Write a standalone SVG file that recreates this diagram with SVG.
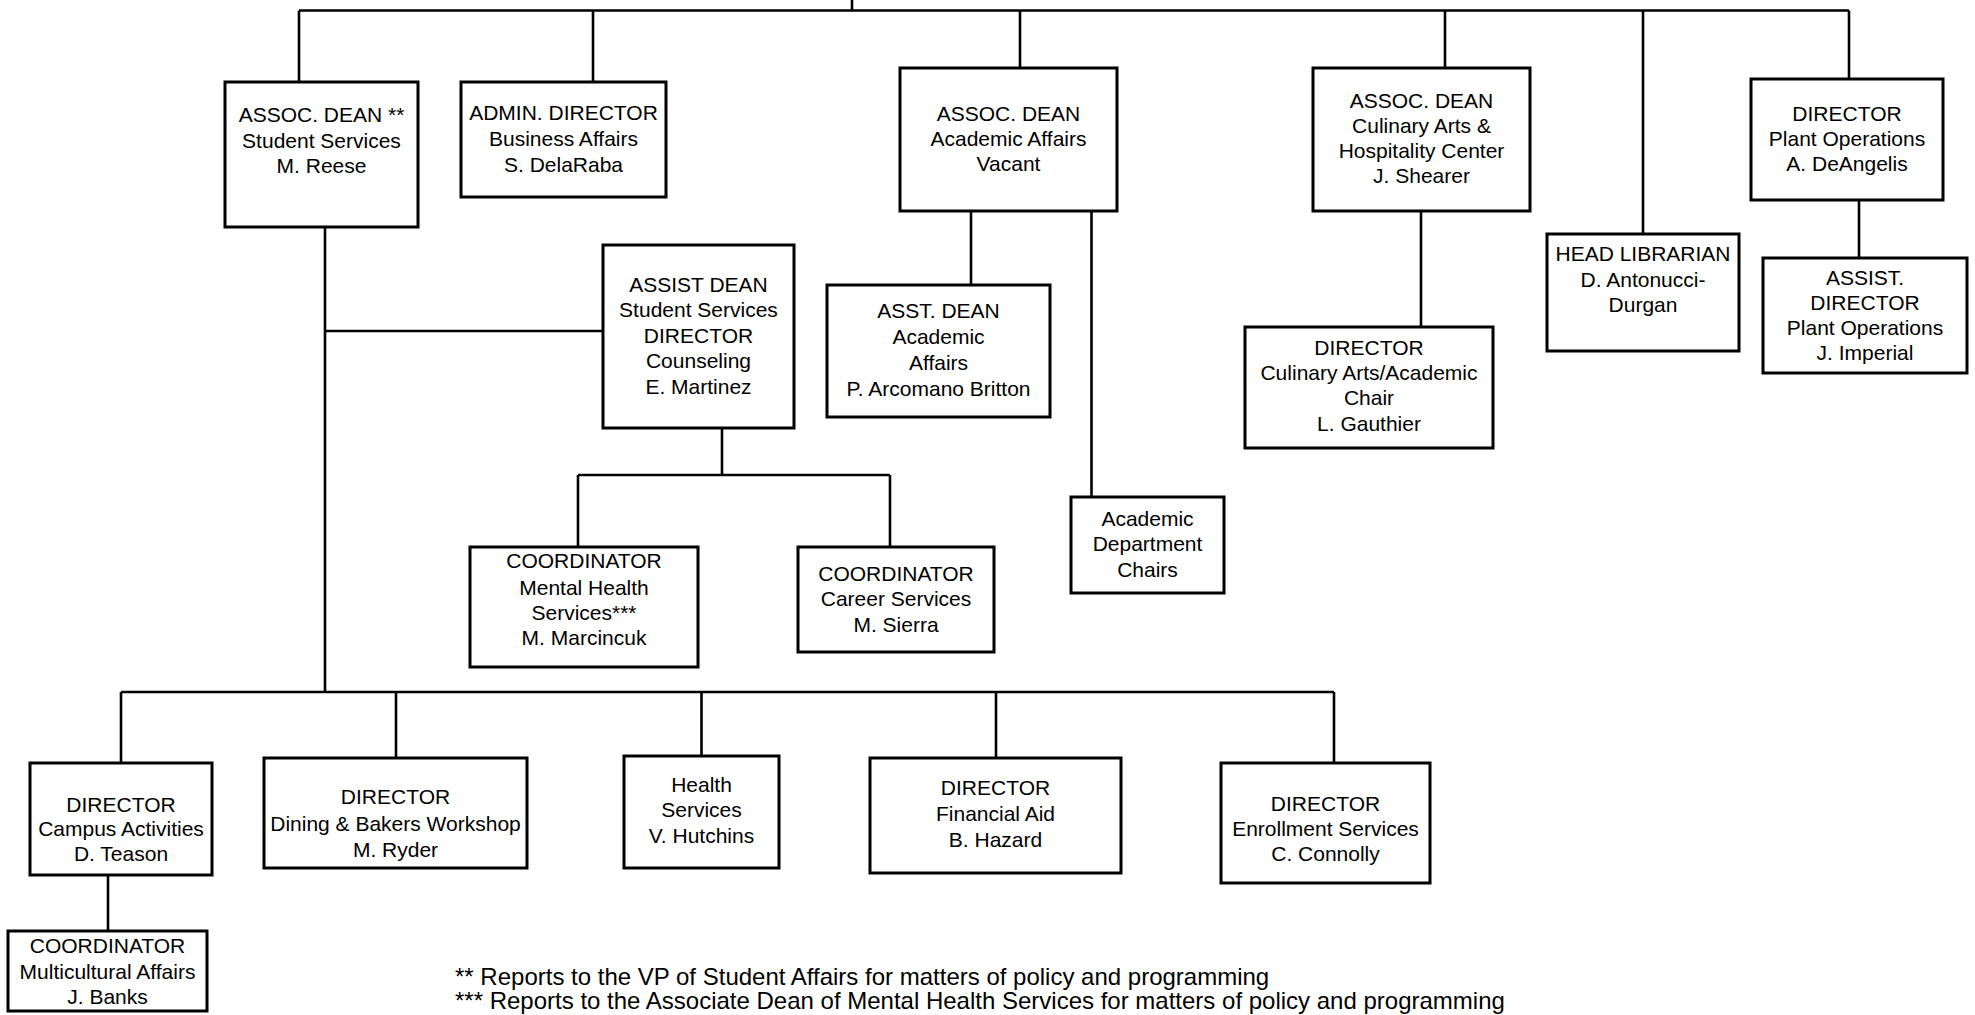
<svg xmlns="http://www.w3.org/2000/svg" width="1975" height="1015" viewBox="0 0 1975 1015">
<style>
.box{fill:#fff;stroke:#000;stroke-width:3}
.ln{fill:none;stroke:#000;stroke-width:2.6}
text{font-family:"Liberation Sans",Arial,sans-serif;font-size:21px;fill:#000;text-anchor:middle}
.fn{font-size:24px;text-anchor:start}
</style>
<rect width="1975" height="1015" fill="#fff"/>
<g id="connectors">
<path class="ln" d="M852,0V10.5M299,10.5H1849M299,10.5V82M593,10.5V82M1020,10.5V68M1445,10.5V68M1643,10.5V234M1849,10.5V79"/>
<path class="ln" d="M325,227V692M325,331H603"/>
<path class="ln" d="M722,428V475M578,475H890M578,475V547M890,475V547"/>
<path class="ln" d="M971,211V285M1091.5,211V497"/>
<path class="ln" d="M1421,211V327M1859,200V258"/>
<path class="ln" d="M121,692H1334M121,692V763M396,692V758M701.5,692V756M996,692V758M1334,692V763"/>
<path class="ln" d="M108,875V931"/>
</g>
<g id="n-assoc-dean-ss"><rect class="box" x="225" y="82" width="193" height="145"/>
<text x="321.5" y="122">ASSOC. DEAN **</text><text x="321.5" y="148">Student Services</text><text x="321.5" y="173">M. Reese</text></g>
<g id="n-admin-dir"><rect class="box" x="461" y="82" width="205" height="115"/>
<text x="563.5" y="120">ADMIN. DIRECTOR</text><text x="563.5" y="146">Business Affairs</text><text x="563.5" y="172">S. DelaRaba</text></g>
<g id="n-assoc-dean-aa"><rect class="box" x="900" y="68" width="217" height="143"/>
<text x="1008.5" y="121">ASSOC. DEAN</text><text x="1008.5" y="146">Academic Affairs</text><text x="1008.5" y="171">Vacant</text></g>
<g id="n-assoc-dean-culinary"><rect class="box" x="1313" y="68" width="217" height="143"/>
<text x="1421.5" y="107.5">ASSOC. DEAN</text><text x="1421.5" y="133">Culinary Arts &amp;</text><text x="1421.5" y="158">Hospitality Center</text><text x="1421.5" y="183">J. Shearer</text></g>
<g id="n-head-librarian"><rect class="box" x="1547" y="234" width="192" height="117"/>
<text x="1643" y="261">HEAD LIBRARIAN</text><text x="1643" y="287">D. Antonucci-</text><text x="1643" y="312">Durgan</text></g>
<g id="n-dir-plant"><rect class="box" x="1751" y="79" width="192" height="121"/>
<text x="1847" y="120.5">DIRECTOR</text><text x="1847" y="145.7">Plant Operations</text><text x="1847" y="170.7">A. DeAngelis</text></g>
<g id="n-assist-dir-plant"><rect class="box" x="1763" y="258" width="204" height="115"/>
<text x="1865" y="285">ASSIST.</text><text x="1865" y="310">DIRECTOR</text><text x="1865" y="335">Plant Operations</text><text x="1865" y="360">J. Imperial</text></g>
<g id="n-assist-dean-ss"><rect class="box" x="603" y="245" width="191" height="183"/>
<text x="698.5" y="292">ASSIST DEAN</text><text x="698.5" y="317">Student Services</text><text x="698.5" y="343">DIRECTOR</text><text x="698.5" y="368">Counseling</text><text x="698.5" y="394">E. Martinez</text></g>
<g id="n-asst-dean-aa"><rect class="box" x="827" y="285" width="223" height="132"/>
<text x="938.5" y="318">ASST. DEAN</text><text x="938.5" y="344">Academic</text><text x="938.5" y="370">Affairs</text><text x="938.5" y="396">P. Arcomano Britton</text></g>
<g id="n-coord-mh"><rect class="box" x="470" y="547" width="228" height="120"/>
<text x="584" y="568">COORDINATOR</text><text x="584" y="595">Mental Health</text><text x="584" y="620">Services***</text><text x="584" y="645">M. Marcincuk</text></g>
<g id="n-coord-career"><rect class="box" x="798" y="547" width="196" height="105"/>
<text x="896" y="581">COORDINATOR</text><text x="896" y="606">Career Services</text><text x="896" y="632">M. Sierra</text></g>
<g id="n-acad-dept-chairs"><rect class="box" x="1071" y="497" width="153" height="96"/>
<text x="1147.5" y="526">Academic</text><text x="1147.5" y="551">Department</text><text x="1147.5" y="577">Chairs</text></g>
<g id="n-dir-culinary"><rect class="box" x="1245" y="327" width="248" height="121"/>
<text x="1369" y="355">DIRECTOR</text><text x="1369" y="380">Culinary Arts/Academic</text><text x="1369" y="405">Chair</text><text x="1369" y="431">L. Gauthier</text></g>
<g id="n-dir-campus"><rect class="box" x="30" y="763" width="182" height="112"/>
<text x="121" y="812">DIRECTOR</text><text x="121" y="836">Campus Activities</text><text x="121" y="861">D. Teason</text></g>
<g id="n-coord-multicultural"><rect class="box" x="8" y="931" width="199" height="80"/>
<text x="107.5" y="953">COORDINATOR</text><text x="107.5" y="979">Multicultural Affairs</text><text x="107.5" y="1004">J. Banks</text></g>
<g id="n-dir-dining"><rect class="box" x="264" y="758" width="263" height="110"/>
<text x="395.5" y="804">DIRECTOR</text><text x="395.5" y="831">Dining &amp; Bakers Workshop</text><text x="395.5" y="857">M. Ryder</text></g>
<g id="n-health"><rect class="box" x="624" y="756" width="155" height="112"/>
<text x="701.5" y="792">Health</text><text x="701.5" y="817">Services</text><text x="701.5" y="843">V. Hutchins</text></g>
<g id="n-dir-finaid"><rect class="box" x="870" y="758" width="251" height="115"/>
<text x="995.5" y="795">DIRECTOR</text><text x="995.5" y="821">Financial Aid</text><text x="995.5" y="847">B. Hazard</text></g>
<g id="n-dir-enroll"><rect class="box" x="1221" y="763" width="209" height="120"/>
<text x="1325.5" y="811">DIRECTOR</text><text x="1325.5" y="836">Enrollment Services</text><text x="1325.5" y="861">C. Connolly</text></g>
<g id="footnotes">
<text class="fn" x="455" y="985">** Reports to the VP of Student Affairs for matters of policy and programming</text>
<text class="fn" x="455" y="1009">*** Reports to the Associate Dean of Mental Health Services for matters of policy and programming</text>
</g>
</svg>
